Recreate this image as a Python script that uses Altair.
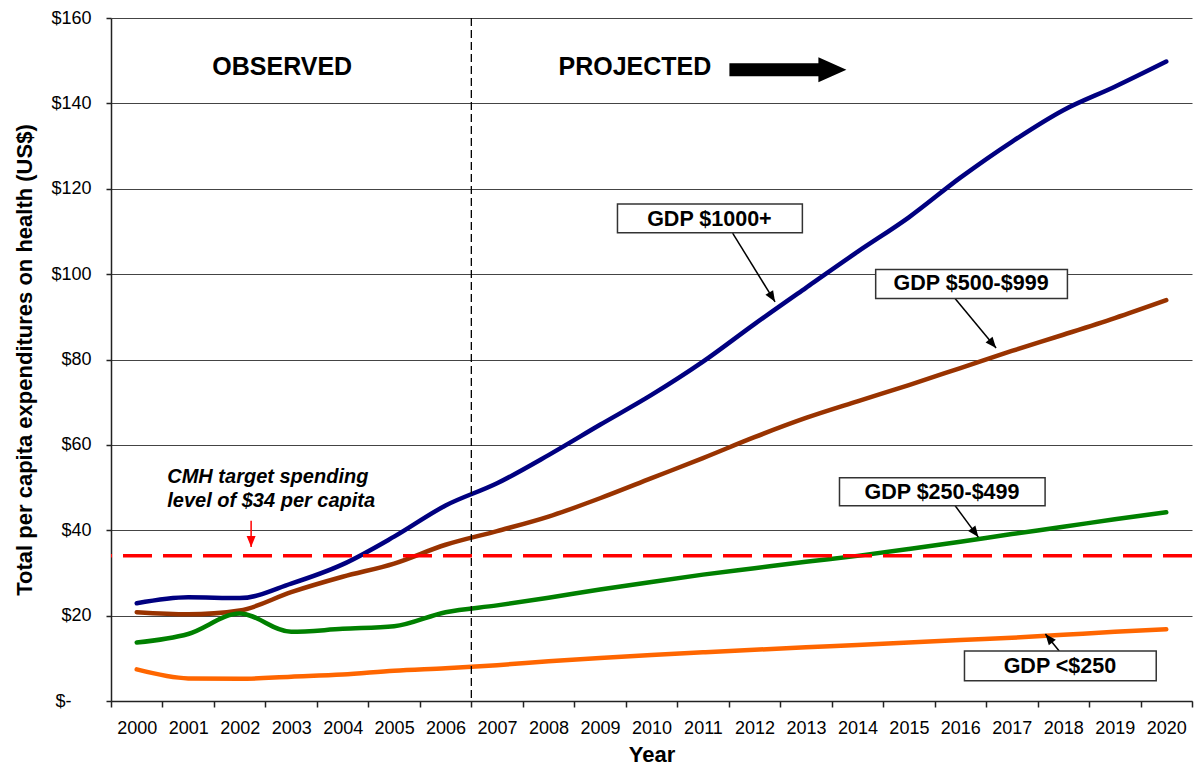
import math
import altair as alt
import pandas as pd

# ---------------- data ----------------
years = [str(y) for y in range(2000, 2021)]
gdp_1000 = [22.9, 24.3, 24.1, 27.5, 32.0, 38.5, 45.8, 51.0, 57.6, 64.7, 71.7,
            79.5, 88.3, 96.8, 105.2, 113.3, 122.6, 131.0, 138.4, 143.9, 149.8]
gdp_500 = [20.8, 20.3, 21.2, 25.5, 29.1, 32.2, 36.6, 39.8, 43.2, 47.5, 52.2,
           56.9, 61.8, 66.3, 70.2, 74.0, 78.0, 82.0, 85.8, 89.7, 93.9]
gdp_250 = [13.7, 15.7, 20.5, 16.2, 16.9, 17.5, 20.8, 22.4, 24.2, 26.1, 27.9,
           29.6, 31.1, 32.6, 34.0, 35.6, 37.3, 39.1, 40.8, 42.6, 44.2]
gdp_low = [7.4, 5.3, 5.2, 5.7, 6.2, 7.1, 7.7, 8.4, 9.3, 10.1, 10.8,
           11.4, 12.0, 12.6, 13.1, 13.7, 14.3, 14.8, 15.5, 16.2, 16.8]
series_names = ["GDP $1000+", "GDP $500-$999", "GDP $250-$499", "GDP <$250"]
series_colors = ["#000080", "#993300", "#008000", "#FF6600"]
target_value = [34]
y_ticks = [0, 20, 40, 60, 80, 100, 120, 140, 160]

# annotations (x in year-band units from left edge, y in US$)
phase_text = ["OBSERVED", "PROJECTED"]
phase_x = [3.326, 10.178]
phase_y = [146.6, 146.6]
divider_x = [7]
cmh_text = ["CMH target spending", "level of $34 per capita"]
cmh_x = [1.093, 1.093]
cmh_y = [51.0, 45.4]
box_text = ["GDP $1000+", "GDP $500-$999", "GDP $250-$499", "GDP <$250"]
box_x1 = [9.839, 14.855, 14.152, 16.580]
box_x2 = [13.431, 18.580, 18.146, 20.305]
box_y1 = [116.4, 101.1, 52.3, 11.7]
box_y2 = [109.7, 94.3, 45.75, 4.76]
box_tx = [11.625, 16.709, 16.143, 18.434]
box_ty = [111.3, 96.3, 47.3, 6.63]
arrow_x1 = [12.076, 16.389, 16.389, 18.420, 2.722]
arrow_y1 = [109.6, 94.4, 45.9, 11.7, 42.2]
arrow_x2 = [12.900, 17.194, 16.849, 18.152, 2.722]
arrow_y2 = [93.5, 82.7, 38.4, 15.7, 36.1]
arrow_colors = ["black", "black", "black", "black", "#FF0000"]
big_arrow_x = [13.15]
big_arrow_y = [147.9]

# ---------------- layout ----------------
W = 1081
H = 683
FONT = "Liberation Sans"
BW = W / 21.0
PY = H / 160.0

rows = []
for name, vals in zip(series_names, [gdp_1000, gdp_500, gdp_250, gdp_low]):
    for yr, v in zip(years, vals):
        rows.append({"year": yr, "value": v, "series": name})
df = pd.DataFrame(rows)

AX = alt.Scale(domain=[0, 21], nice=False, zero=False)
AY = alt.Scale(domain=[0, 160], nice=False, zero=False)

# "$-" label pushed left (accounting style); trailing zero-width space keeps the padding
pad = "\u00a0" * 4 + "\u200b"
y_label_expr = "datum.value == 0 ? '$-" + pad + "' : '$' + datum.value"
Y_TITLE = "Total per capita expenditures on health (US$)"


def yaxis():
    return alt.Axis(title=Y_TITLE, values=y_ticks, labelExpr=y_label_expr, grid=True,
                    labelFontSize=18, labelPadding=15, tickSize=5,
                    titleFontSize=22, titleFontWeight="bold", titlePadding=14)


def Yq(field):
    return alt.Y(field, scale=AY, axis=yaxis(), title=Y_TITLE)


def Xq(field):
    return alt.X(field, scale=AX, axis=None)


lines = alt.Chart(df).mark_line(
    strokeWidth=4.5, interpolate="monotone", strokeCap="round", strokeJoin="round"
).encode(
    x=alt.X("year:O",
            scale=alt.Scale(type="band", domain=years, paddingInner=0, paddingOuter=0),
            bandPosition=0.5,
            sort=None,
            axis=alt.Axis(title="Year", tickBand="extent", grid=False, labelAngle=0,
                          labelFontSize=18, labelPadding=12, tickSize=6,
                          titleFontSize=22, titleFontWeight="bold", titlePadding=7)),
    y=Yq("value:Q"),
    color=alt.Color("series:N", scale=alt.Scale(domain=series_names, range=series_colors),
                    legend=None),
    order=alt.Order("year:O"),
)

divider = alt.Chart(pd.DataFrame({"ax": divider_x})).mark_rule(
    color="black", strokeWidth=1.3, strokeDash=[8, 4]
).encode(x=Xq("ax:Q"))

target = alt.Chart(pd.DataFrame({"v": target_value})).mark_rule(
    color="#FF0000", strokeWidth=3.5, strokeDash=[29, 11]
).encode(y=Yq("v:Q"))

phase = alt.Chart(pd.DataFrame({"t": phase_text, "ax": phase_x, "ay": phase_y})).mark_text(
    font=FONT, fontWeight="bold", fontSize=25, align="center", baseline="alphabetic", color="black"
).encode(x=Xq("ax:Q"), y=Yq("ay:Q"), text="t:N")

big_arrow_shape = "M-1,-0.111L0.521,-0.111L0.521,-0.214L1,0L0.521,0.214L0.521,0.111L-1,0.111Z"
big_arrow = alt.Chart(pd.DataFrame({"ax": big_arrow_x, "ay": big_arrow_y})).mark_point(
    shape=big_arrow_shape, size=13689, filled=True, color="black", opacity=1, strokeWidth=0
).encode(x=Xq("ax:Q"), y=Yq("ay:Q"))

cmh = alt.Chart(pd.DataFrame({"t": cmh_text, "ax": cmh_x, "ay": cmh_y})).mark_text(
    font=FONT, fontWeight="bold", fontStyle="italic", fontSize=20, align="left",
    baseline="alphabetic", color="black"
).encode(x=Xq("ax:Q"), y=Yq("ay:Q"), text="t:N")

arr_df = pd.DataFrame({"x1": arrow_x1, "y1": arrow_y1, "x2": arrow_x2, "y2": arrow_y2,
                       "c": arrow_colors})
arr_df["ang"] = [
    math.degrees(math.atan2((b - a) * BW, (d - c) * PY)) % 360
    for a, b, c, d in zip(arrow_x1, arrow_x2, arrow_y1, arrow_y2)
]

arrow_lines = alt.Chart(arr_df).mark_rule(strokeWidth=1.5).encode(
    x=Xq("x1:Q"), x2="x2:Q",
    y=Yq("y1:Q"), y2="y2:Q",
    color=alt.Color("c:N", scale=None),
)
arrow_heads = alt.Chart(arr_df).mark_point(
    shape="M0,0L-0.45,1.1L0.45,1.1Z", size=400, filled=True, opacity=1, strokeWidth=0
).encode(
    x=Xq("x2:Q"),
    y=Yq("y2:Q"),
    angle=alt.Angle("ang:Q", scale=None),
    color=alt.Color("c:N", scale=None),
)

box_df = pd.DataFrame({"t": box_text, "x1": box_x1, "x2": box_x2, "y1": box_y1, "y2": box_y2,
                       "tx": box_tx, "ty": box_ty})
boxes = alt.Chart(box_df).mark_rect(fill="white", stroke="#333333", strokeWidth=1.5).encode(
    x=Xq("x1:Q"), x2="x2:Q",
    y=Yq("y1:Q"), y2="y2:Q",
)
box_labels = alt.Chart(box_df).mark_text(
    font=FONT, fontWeight="bold", fontSize=21.5, align="center", baseline="alphabetic", color="black"
).encode(x=Xq("tx:Q"), y=Yq("ty:Q"), text="t:N")

chart = alt.layer(
    lines, divider, target, phase, big_arrow, cmh, arrow_lines, arrow_heads, boxes, box_labels
).resolve_scale(x="independent").properties(
    width=W, height=H, padding={"left": 5, "top": 1, "right": 0, "bottom": 0}
).configure_view(stroke=None).configure_axis(
    labelFont=FONT, titleFont=FONT, labelColor="black", titleColor="black",
    domainColor="#222222", tickColor="#222222", gridColor="#444444", gridWidth=1,
    domainWidth=1.5, tickWidth=1.5
)

chart.save("out.html", embed_options={"renderer": "svg", "actions": False})
